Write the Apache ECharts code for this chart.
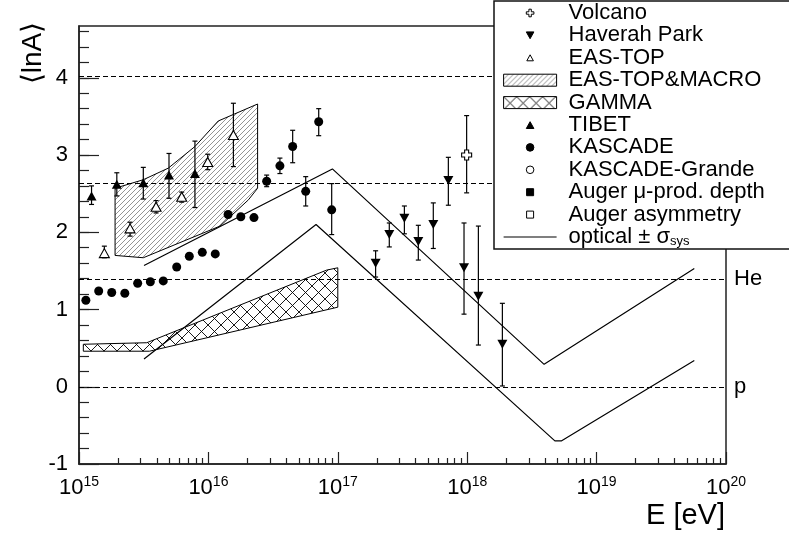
<!DOCTYPE html>
<html>
<head>
<meta charset="utf-8">
<script src="https://cdn.jsdelivr.net/npm/echarts@6/dist/echarts.min.js"></script>
<style>
  html, body { margin: 0; padding: 0; background: #fff; }
  #chart { width: 789px; height: 534px; }
</style>
</head>
<body>
<div id="chart"></div>
<script>
const FONT = 'Liberation Sans';

// tick positions
const xDecades = [15, 16, 17, 18, 19, 20];
const yMajor = [-1, 0, 1, 2, 3, 4];

// reference lines (lnA of p, He, N, Fe)
const refNames = ['p', 'He', 'N', 'Fe'];
const refLnA = [0, 1.386, 2.639, 4.02];

// [E (eV), <lnA>, low, high]
const volcano = [[9.9e17, 3.00, 2.51, 3.51]];
const haverah = [
  [1.96e17, 1.60, 1.42, 1.76],
  [2.50e17, 1.97, 1.81, 2.12],
  [3.27e17, 2.18, 1.98, 2.34],
  [4.19e17, 1.88, 1.64, 2.09],
  [5.47e17, 2.10, 1.79, 2.38],
  [7.15e17, 2.67, 2.35, 2.97],
  [9.45e17, 1.54, 0.94, 2.12],
  [1.22e18, 1.17, 0.54, 2.08],
  [1.87e18, 0.55, 0.01, 1.08]
];
const easTop = [
  [1.57e15, 1.73, 1.67, 1.82],
  [2.48e15, 2.05, 1.95, 2.13],
  [3.94e15, 2.33, 2.25, 2.41],
  [6.22e15, 2.46, 2.39, 2.52],
  [9.88e15, 2.91, 2.81, 3.01],
  [1.56e16, 3.26, 2.85, 3.67]
];
const tibet = [
  [1.25e15, 2.47, 2.36, 2.60],
  [1.96e15, 2.62, 2.47, 2.77],
  [3.14e15, 2.64, 2.43, 2.84],
  [4.96e15, 2.74, 2.44, 3.02],
  [7.87e15, 2.76, 2.32, 3.18]
];
const kascade = [
  [1.13e15, 1.12, null, null],
  [1.42e15, 1.24, null, null],
  [1.79e15, 1.22, null, null],
  [2.26e15, 1.21, null, null],
  [2.84e15, 1.34, null, null],
  [3.56e15, 1.36, null, null],
  [4.48e15, 1.37, null, null],
  [5.69e15, 1.55, null, null],
  [7.12e15, 1.69, null, null],
  [8.97e15, 1.74, null, null],
  [1.13e16, 1.72, null, null],
  [1.42e16, 2.23, null, null],
  [1.78e16, 2.20, null, null],
  [2.25e16, 2.19, null, null],
  [2.82e16, 2.66, 2.59, 2.74],
  [3.57e16, 2.86, 2.76, 2.96],
  [4.48e16, 3.11, 2.90, 3.32],
  [5.65e16, 2.53, 2.34, 2.72],
  [7.12e16, 3.43, 3.25, 3.60],
  [8.97e16, 2.29, 1.97, 2.63]
];

// band outlines [E, <lnA>]
const macroBand = [
  [1.90e15, 2.57], [3.14e15, 2.68], [4.90e15, 2.83], [7.87e15, 3.11], [1.19e16, 3.44],
  [2.40e16, 3.66], [2.40e16, 2.57], [2.04e16, 2.42], [1.23e16, 2.08], [3.14e15, 1.67],
  [1.90e15, 1.70]
];
const gammaBand = [
  [1.08e15, 0.55], [3.34e15, 0.57], [8.2e16, 1.51], [1.0e17, 1.54],
  [1.0e17, 1.03], [3.5e15, 0.46], [1.08e15, 0.46]
];

// optical +- sigma_sys
const opticalHigh = [[3.18e15, 1.57], [9.08e16, 2.82], [3.93e18, 0.29], [5.69e19, 1.53]];
const opticalLow = [[3.18e15, 0.36], [6.79e16, 2.10], [4.76e18, -0.70], [5.37e18, -0.70], [5.69e19, 0.34]];

function pattern(size, draw) {
  const c = document.createElement('canvas');
  c.width = size;
  c.height = size;
  draw(c.getContext('2d'), size);
  return { image: c, repeat: 'repeat' };
}

const diagHatch = pattern(5, (ctx, s) => {
  ctx.strokeStyle = '#666';
  ctx.lineWidth = 0.7;
  ctx.beginPath();
  ctx.moveTo(-1, s + 1); ctx.lineTo(s + 1, -1);
  ctx.moveTo(-1, 1); ctx.lineTo(1, -1);
  ctx.moveTo(s - 1, s + 1); ctx.lineTo(s + 1, s - 1);
  ctx.stroke();
});
const crossHatch = pattern(13, (ctx, s) => {
  ctx.strokeStyle = '#000';
  ctx.lineWidth = 0.9;
  ctx.beginPath();
  ctx.moveTo(0, 0); ctx.lineTo(s, s);
  ctx.moveTo(s, 0); ctx.lineTo(0, s);
  ctx.stroke();
});

const minorX = [];
xDecades.slice(0, -1).forEach(d => {
  for (let k = 2; k <= 9; k++) minorX.push(d + Math.log10(k));
});
const minorY = [];
for (let v = -0.8; v < 4.67; v += 0.2) minorY.push(Math.round(v * 10) / 10);

function errRender(params, api) {
  const lo = api.value(2), hi = api.value(3);
  if (isNaN(lo) || isNaN(hi)) return null;
  const x = api.value(0);
  const a = api.coord([x, hi]);
  const b = api.coord([x, lo]);
  const w = 2.5;
  const st = { stroke: '#000', lineWidth: 1.2 };
  return {
    type: 'group',
    children: [
      { type: 'line', shape: { x1: a[0], y1: a[1], x2: b[0], y2: b[1] }, style: st },
      { type: 'line', shape: { x1: a[0] - w, y1: a[1], x2: a[0] + w, y2: a[1] }, style: st },
      { type: 'line', shape: { x1: b[0] - w, y1: b[1], x2: b[0] + w, y2: b[1] }, style: st }
    ]
  };
}

function errSeries(data) {
  return {
    type: 'custom', name: '_err', renderItem: errRender, data: data,
    encode: { x: 0, y: [2, 3] }, silent: true, z: 3, animation: false
  };
}

function markers(name, data, symbol, size, filled, rotate) {
  return {
    type: 'scatter', name: name, data: data.map(d => [d[0], d[1]]),
    symbol: symbol, symbolSize: size, symbolRotate: rotate || 0, z: 4,
    itemStyle: filled
      ? { color: '#000', borderColor: '#000', borderWidth: 0, opacity: 1 }
      : { color: '#fff', borderColor: '#000', borderWidth: 1.1, opacity: 1 }
  };
}

function bandSeries(name, pts, fill) {
  return {
    type: 'custom', name: name, data: pts, encode: { x: 0, y: 1 }, z: 1, silent: true,
    itemStyle: { color: fill, borderColor: '#000', borderWidth: 1 },
    renderItem: (params, api) => {
      if (params.dataIndex !== 0) return null;
      return {
        type: 'polygon',
        shape: { points: pts.map(p => api.coord(p)) },
        style: { fill: fill, stroke: '#000', lineWidth: 1 }
      };
    }
  };
}

const box = 'path://M0,0M53,12';
const icons = {
  cross: box + 'M25.3,2.2L27.7,2.2L27.7,4.8L30.3,4.8L30.3,7.2L27.7,7.2L27.7,9.8L25.3,9.8L25.3,7.2L22.7,7.2L22.7,4.8L25.3,4.8Z',
  down: box + 'M22.7,2.5L30.3,2.5L26.5,9.3Z',
  up: box + 'M26.5,2.7L30.3,9.5L22.7,9.5Z',
  upSmall: box + 'M26.5,3L29.8,9L23.2,9Z',
  circle: box + 'M22.7,6A3.8,3.8 0 1 0 30.3,6A3.8,3.8 0 1 0 22.7,6Z',
  square: box + 'M23,2.5L30,2.5L30,9.5L23,9.5Z'
};
const openStyle = { color: '#fff', borderColor: '#000', borderWidth: 1 };
const fullStyle = { color: '#000', borderColor: '#000', borderWidth: 1 };

const chart = echarts.init(document.getElementById('chart'));

const series = [
  bandSeries('EAS-TOP&MACRO', macroBand, diagHatch),
  bandSeries('GAMMA', gammaBand, crossHatch),
  {
    type: 'line', name: 'optical', data: opticalHigh, symbol: 'none', z: 2,
    lineStyle: { color: '#000', width: 1.2 }, itemStyle: { color: '#000' },
    markLine: {
      silent: true, symbol: 'none', animation: false,
      lineStyle: { color: '#000', type: [5, 3], width: 1 },
      label: { position: 'end', formatter: '{b}', fontSize: 22, fontFamily: FONT, color: '#000', distance: 8 },
      data: refNames.map((n, i) => ({ name: n, yAxis: refLnA[i], label: { show: i < 2 } }))
    }
  },
  {
    type: 'line', name: 'optical', data: opticalLow, symbol: 'none', z: 2,
    lineStyle: { color: '#000', width: 1.2 }, itemStyle: { color: '#000' }
  },
  errSeries(volcano), errSeries(haverah), errSeries(easTop), errSeries(tibet), errSeries(kascade),
  markers('Volcano', volcano, 'path://M3,0L7,0L7,3L10,3L10,7L7,7L7,10L3,10L3,7L0,7L0,3L3,3Z', 10, false),
  markers('Haverah Park', haverah, 'triangle', [10, 9], true, 180),
  markers('EAS-TOP', easTop, 'triangle', [10, 9], false),
  markers('TIBET', tibet, 'triangle', [10, 9], true),
  markers('KASCADE', kascade, 'circle', 9, true),
  markers('KASCADE-Grande', [], 'circle', 9, false),
  markers('Auger μ-prod. depth', [], 'rect', 8, true),
  markers('Auger asymmetry', [], 'rect', 8, false)
];

const tickStyle = { color: '#222', width: 1.2 };

chart.setOption({
  animation: false,
  backgroundColor: '#fff',
  textStyle: { fontFamily: FONT, color: '#000' },
  grid: {
    left: 79, right: 63, top: 26, bottom: 70,
    show: true, borderColor: '#222', borderWidth: 1.5, backgroundColor: 'transparent'
  },
  xAxis: [
    {
      type: 'log', logBase: 10, min: 1e15, max: 1e20,
      axisLine: { show: true, onZero: false, lineStyle: { color: '#222', width: 1.5 } },
      axisTick: { show: false }, axisLabel: { show: false }, splitLine: { show: false }
    },
    {
      type: 'value', min: 15, max: 20, interval: 1, position: 'bottom',
      axisLine: { show: false, onZero: false }, splitLine: { show: false },
      axisTick: { show: true, inside: true, length: 12, customValues: xDecades, lineStyle: tickStyle },
      axisLabel: {
        customValues: xDecades, margin: 11,
        formatter: v => '{b|10}{s|' + v + '}',
        rich: {
          b: { fontSize: 22, lineHeight: 26, fontFamily: FONT, color: '#000' },
          s: { fontSize: 14, lineHeight: 18, verticalAlign: 'top', fontFamily: FONT, color: '#000' }
        }
      }
    },
    {
      type: 'value', min: 15, max: 20, position: 'bottom',
      axisLine: { show: false, onZero: false }, splitLine: { show: false }, axisLabel: { show: false },
      axisTick: { show: true, inside: true, length: 6, customValues: minorX, lineStyle: tickStyle }
    }
  ],
  yAxis: [
    {
      type: 'value', min: -1, max: 4.67, position: 'left',
      axisLine: { show: true, onZero: false, lineStyle: { color: '#222', width: 1.5 } },
      splitLine: { show: false },
      axisTick: { show: true, inside: true, length: 20, customValues: yMajor, lineStyle: tickStyle },
      axisLabel: { customValues: yMajor, margin: 11, fontSize: 22, fontFamily: FONT, color: '#000' }
    },
    {
      type: 'value', min: -1, max: 4.67, position: 'left',
      axisLine: { show: false, onZero: false }, splitLine: { show: false }, axisLabel: { show: false },
      axisTick: { show: true, inside: true, length: 10, customValues: minorY, lineStyle: tickStyle }
    }
  ],
  legend: {
    orient: 'vertical', left: 494, top: 1, z: 10,
    selectedMode: false,
    itemWidth: 53, itemHeight: 12, itemGap: 0.4,
    padding: [1, 26, 1, 9],
    backgroundColor: '#fff', borderColor: '#111', borderWidth: 1.5, borderRadius: 0,
    textStyle: {
      fontSize: 22, fontFamily: FONT, color: '#000', padding: [0, 0, 0, 7],
      rich: {
        n: { fontSize: 22, fontFamily: FONT, color: '#000' },
        sub: { fontSize: 13, lineHeight: 6, verticalAlign: 'bottom', fontFamily: FONT, color: '#000' }
      }
    },
    formatter: name => name === 'optical' ? '{n|optical ± σ}{sub|sys}' : name,
    data: [
      { name: 'Volcano', icon: icons.cross, itemStyle: openStyle },
      { name: 'Haverah Park', icon: icons.down, itemStyle: fullStyle },
      { name: 'EAS-TOP', icon: icons.upSmall, itemStyle: openStyle },
      { name: 'EAS-TOP&MACRO', icon: 'rect', itemStyle: { color: diagHatch, borderColor: '#000', borderWidth: 1 } },
      { name: 'GAMMA', icon: 'rect', itemStyle: { color: crossHatch, borderColor: '#000', borderWidth: 1 } },
      { name: 'TIBET', icon: icons.up, itemStyle: fullStyle },
      { name: 'KASCADE', icon: icons.circle, itemStyle: fullStyle },
      { name: 'KASCADE-Grande', icon: icons.circle, itemStyle: openStyle },
      { name: 'Auger μ-prod. depth', icon: icons.square, itemStyle: fullStyle },
      { name: 'Auger asymmetry', icon: icons.square, itemStyle: openStyle },
      {
        name: 'optical',
        itemStyle: { color: 'rgba(0,0,0,0)', borderColor: 'rgba(0,0,0,0)', borderWidth: 0 },
        lineStyle: { color: '#000', width: 1.2 }
      }
    ]
  },
  graphic: [
    {
      type: 'text', x: 725, y: 516,
      style: { text: 'E [eV]', fontSize: 29, fontFamily: FONT, fill: '#000', align: 'right', verticalAlign: 'middle' }
    },
    {
      type: 'text', x: 33, y: 53, rotation: Math.PI / 2,
      style: { text: '⟨lnA⟩', fontSize: 28, fontFamily: FONT, fill: '#000', align: 'center', verticalAlign: 'middle' }
    }
  ],
  series: series
});
</script>
</body>
</html>
